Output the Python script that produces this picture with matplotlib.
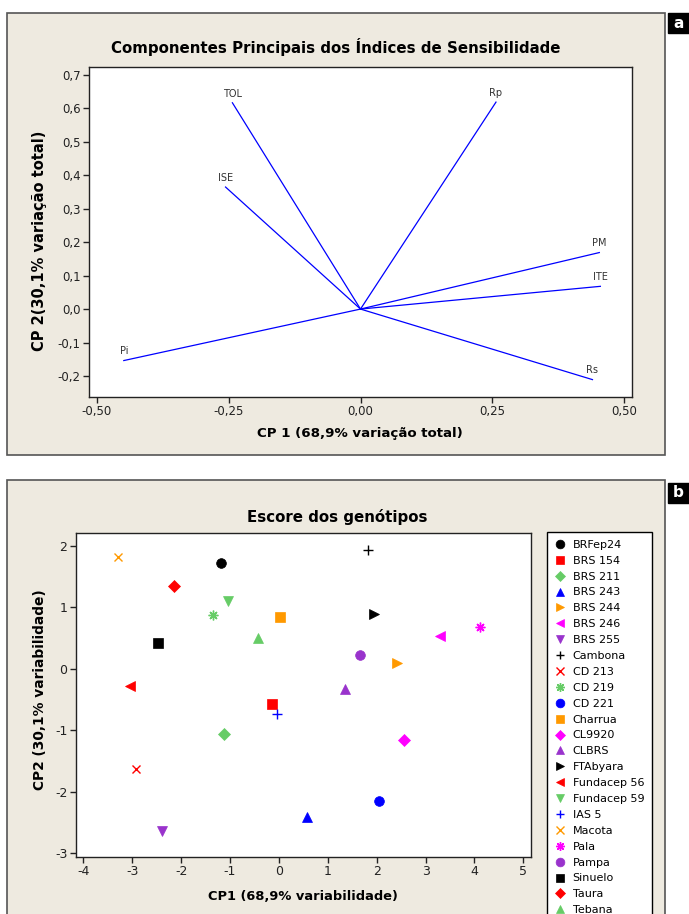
import matplotlib
matplotlib.use("Agg")
import matplotlib.pyplot as plt
from matplotlib.patches import Rectangle
from matplotlib.lines import Line2D
from matplotlib.ticker import FuncFormatter

plt.rcParams["axes.unicode_minus"] = False

# --- data: loadings (panel a)
vars_names = ["TOL", "Rp", "ISE", "PM", "ITE", "Pi", "Rs"]
load_cp1 = [-0.243, 0.257, -0.256, 0.453, 0.455, -0.449, 0.440]
load_cp2 = [0.617, 0.619, 0.365, 0.169, 0.068, -0.154, -0.211]

# --- data: genotype scores (panel b)
genotypes = ["BRFep24", "BRS 154", "BRS 211", "BRS 243", "BRS 244", "BRS 246",
             "BRS 255", "Cambona", "CD 213", "CD 219", "CD 221", "Charrua",
             "CL9920", "CLBRS", "FTAbyara", "Fundacep 56", "Fundacep 59",
             "IAS 5", "Macota", "Pala", "Pampa", "Sinuelo", "Taura", "Tebana"]
score_cp1 = [-1.19, -0.14, -1.12, 0.57, 2.41, 3.29, -2.38, 1.83, -2.92, -1.34,
             2.05, 0.03, 2.56, 1.36, 1.94, -3.05, -1.04, -0.03, -3.28, 4.12,
             1.65, -2.47, -2.14, -0.42]
score_cp2 = [1.72, -0.57, -1.06, -2.41, 0.10, 0.53, -2.64, 1.93, -1.63, 0.87,
             -2.15, 0.85, -1.16, -0.33, 0.89, -0.28, 1.10, -0.73, 1.82, 0.68,
             0.23, 0.42, 1.34, 0.50]

# minitab-style symbol cycle
colors = ["black", "#FF0000", "#66CC66", "#0000FF", "#FF9900", "#FF00FF", "#9933CC"]
markers = ["o", "s", "D", "^", ">", "<", "v", "+", "x", (8, 2, 0)]
sizes = {"o": 7, "s": 6.5, "D": 6, "^": 7, ">": 7, "<": 7, "v": 7, "+": 7, "x": 6}

W, H = 689, 914
bg = "#EEEAE0"
fig = plt.figure(figsize=(W / 100, H / 100), dpi=100)
fig.patch.set_facecolor("white")


def fx(px):
    return px / W


def fy(py):
    return 1 - py / H


# panel frames (drawn under the axes)
for top, bot in [(13, 455), (480, 930)]:
    fig.patches.append(Rectangle((fx(7), fy(bot)), fx(665) - fx(7), fy(top) - fy(bot),
                                 transform=fig.transFigure, facecolor=bg,
                                 edgecolor="#555555", lw=1.2, zorder=-2))
for top, lab in [(13, "a"), (483, "b")]:
    fig.patches.append(Rectangle((fx(668), fy(top + 20)), 1 - fx(668), fy(top) - fy(top + 20),
                                 transform=fig.transFigure, facecolor="black",
                                 edgecolor="black", zorder=-1))
    fig.text(fx(678.5), fy(top + 10), lab, color="white", fontsize=11, fontweight="bold",
             ha="center", va="center")

comma = FuncFormatter(lambda v, p: ("%.1f" % v).replace(".", ","))
comma2 = FuncFormatter(lambda v, p: ("%.2f" % v).replace(".", ","))


def style_axes(ax):
    for s in ax.spines.values():
        s.set_color("#222222")
        s.set_linewidth(1.0)
    ax.tick_params(direction="out", length=4, width=1, labelsize=8.5, colors="#222222",
                   pad=2)


# ---------------- panel a
ax1 = fig.add_axes([fx(89), fy(397), fx(632) - fx(89), fy(67) - fy(397)])
style_axes(ax1)
for name, x, y in zip(vars_names, load_cp1, load_cp2):
    ax1.plot([0, x], [0, y], color="#0000FF", lw=0.9)
    ax1.annotate(name, (x, y), xytext=(0, 3), textcoords="offset points",
                 ha="center", va="bottom", fontsize=7, color="#333333")
ax1.set_xlim(-0.515, 0.515)
ax1.set_ylim(-0.263, 0.724)
ax1.set_xticks([-0.5, -0.25, 0, 0.25, 0.5])
ax1.set_yticks([-0.2, -0.1, 0, 0.1, 0.2, 0.3, 0.4, 0.5, 0.6, 0.7])
ax1.xaxis.set_major_formatter(comma2)
ax1.yaxis.set_major_formatter(comma)

fig.text(fx(336), fy(47), "Componentes Principais dos Índices de Sensibilidade",
         ha="center", va="center", fontsize=10.8, fontweight="bold")
fig.text(fx(360), fy(434), "CP 1 (68,9% variação total)", ha="center", va="center",
         fontsize=9.6, fontweight="bold")
fig.text(fx(40), fy(241), "CP 2(30,1% variação total)", ha="center", va="center",
         fontsize=10.5, fontweight="bold", rotation=90)

# ---------------- panel b
ax2 = fig.add_axes([fx(75.7), fy(856.7), fx(531) - fx(75.7), fy(533) - fy(856.7)])
style_axes(ax2)
handles = []
for i, (g, x, y) in enumerate(zip(genotypes, score_cp1, score_cp2)):
    c = colors[i % len(colors)]
    m = markers[i % len(markers)]
    ms = sizes.get(m, 7) if isinstance(m, str) else 7
    mew = 1.0 if m in ("+", "x") or not isinstance(m, str) else 0.5
    ax2.plot([x], [y], linestyle="none", marker=m, color=c, markersize=ms,
             markeredgewidth=mew)
    handles.append(Line2D([], [], linestyle="none", marker=m, color=c, markersize=ms * 0.9,
                          markeredgewidth=mew, label=g))
ax2.set_xlim(-4.155, 5.157)
ax2.set_ylim(-3.06, 2.21)
ax2.set_xticks(range(-4, 6))
ax2.set_yticks(range(-3, 3))
ax2.tick_params(labelsize=9)

fig.text(fx(337), fy(517), "Escore dos genótipos", ha="center", va="center",
         fontsize=10.8, fontweight="bold")
fig.text(fx(303), fy(896), "CP1 (68,9% variabilidade)", ha="center", va="center",
         fontsize=9.4, fontweight="bold")
fig.text(fx(40), fy(690), "CP2 (30,1% variabilidade)", ha="center", va="center",
         fontsize=9.9, fontweight="bold", rotation=90)

leg = fig.legend(handles=handles, loc="upper left", bbox_to_anchor=(fx(547), fy(532)),
                 bbox_transform=fig.transFigure, fontsize=8, frameon=True,
                 fancybox=False, edgecolor="black", facecolor="white", framealpha=1,
                 handlelength=1.0, handletextpad=0.6, labelspacing=0.53,
                 borderpad=0.7, borderaxespad=0)
leg.get_frame().set_linewidth(1.0)

fig.savefig("out.png", dpi=100)
